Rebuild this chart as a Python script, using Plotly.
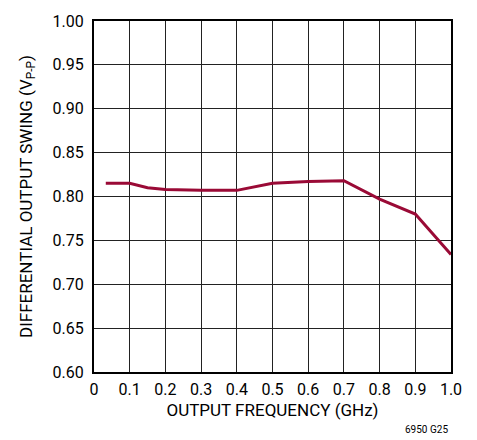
import plotly.graph_objects as go

# Output frequency (GHz) and differential output swing (Vp-p)
freq_ghz = [0.033, 0.1, 0.15, 0.2, 0.3, 0.4, 0.5, 0.6, 0.7, 0.8, 0.9, 1.0]
swing_vpp = [0.815, 0.815, 0.810, 0.808, 0.807, 0.807, 0.815, 0.817, 0.818, 0.797, 0.780, 0.734]

x_ticks = [0, 0.1, 0.2, 0.3, 0.4, 0.5, 0.6, 0.7, 0.8, 0.9, 1.0]
x_tick_text = ["0", "0.1", "0.2", "0.3", "0.4", "0.5", "0.6", "0.7", "0.8", "0.9", "1.0"]
y_ticks = [0.60, 0.65, 0.70, 0.75, 0.80, 0.85, 0.90, 0.95, 1.00]
y_tick_text = [f"{v:.2f}" for v in y_ticks]

FONT = "Roboto, Liberation Sans, sans-serif"

fig = go.Figure()
fig.add_trace(go.Scatter(
    x=freq_ghz, y=swing_vpp, mode="lines",
    line=dict(color="#9a0a36", width=3),
    hoverinfo="skip", showlegend=False,
))

axis_common = dict(
    showline=True, linecolor="black", linewidth=2, mirror=True,
    showgrid=True, gridcolor="#222222", gridwidth=1,
    zeroline=False, ticks="",
    tickfont=dict(family=FONT, size=16, color="black"),
    title_font=dict(family=FONT, size=17, color="black"),
)

fig.update_xaxes(
    range=[0, 1.0], tickvals=x_ticks, ticktext=x_tick_text,
    title_text="OUTPUT FREQUENCY (GHz)", title_standoff=6,
    ticklabelstandoff=2,
    **axis_common,
)
fig.update_yaxes(
    range=[0.60, 1.00], tickvals=y_ticks, ticktext=y_tick_text,
    title_text="DIFFERENTIAL OUTPUT SWING (V<sub>P-P</sub>)", title_standoff=16,
    ticklabelstandoff=5,
    **axis_common,
)

fig.add_annotation(
    text="6950 G25", xref="paper", yref="paper", x=0.998, y=-0.165,
    xanchor="right", yanchor="middle", showarrow=False,
    font=dict(family=FONT, size=10, color="black"),
)

fig.update_layout(
    width=477, height=440,
    margin=dict(l=94, r=26, t=15, b=68),
    paper_bgcolor="white", plot_bgcolor="white",
)

fig.write_html("out.html")
